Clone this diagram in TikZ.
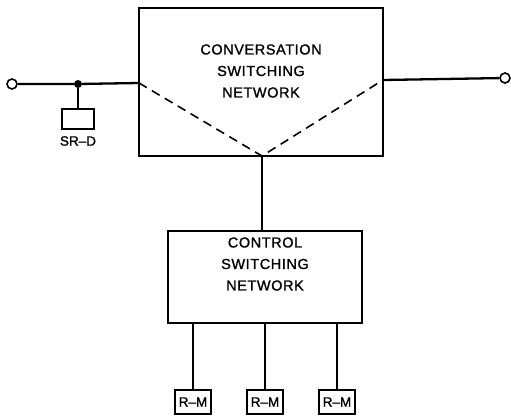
\documentclass[tikz,border=0pt]{standalone}
\usepackage{fontspec}
\setmainfont{Liberation Sans}
\newfontfamily\lblfont{Liberation Sans}[FakeBold=1.2,LetterSpace=4]
\newfontfamily\smfont{Liberation Sans}[FakeBold=1.5]
\begin{document}
\begin{tikzpicture}[x=1pt,y=-1pt,
  wire/.style={line width=2.3pt},
  boxline/.style={draw,line width=1.6pt},
  bigbox/.style={boxline,rectangle,inner sep=0pt},
  term/.style={circle,draw,line width=1.6pt,fill=white,minimum size=10pt,inner sep=0pt},
  lbl/.style={font=\lblfont\fontsize{14.5}{21.5}\selectfont,align=center,inner sep=0pt},
  small/.style={font=\smfont\fontsize{13.5}{15}\selectfont,inner sep=0pt}]
\useasboundingbox (0,0) rectangle (511,415);
% conversation switching network
\node[bigbox,minimum width=244pt,minimum height=148pt] (conv) at (261,82) {};
\node[lbl] (convt) at (261,71) {CONVERSATION\\SWITCHING\\NETWORK};
\coordinate (cl) at (139,83);
\coordinate (cr) at (383,80);
\coordinate (cb) at (262,156);
\draw[line width=1.6pt,dash pattern=on 9pt off 6pt] (cl) -- (cb) -- (cr);
% terminals
\node[term] (tl) at (12,84) {};
\node[term] (tr) at (505,78) {};
\node[circle,fill,minimum size=8pt,inner sep=0pt] (dot) at (78,84) {};
\draw[wire] (tl) -- (dot) -- (cl);
\draw[wire] (cr) -- (tr);
% SR-D
\node[bigbox,minimum width=32pt,minimum height=20pt] (srd) at (78,119) {};
\draw[wire] (dot) -- (srd);
\node[small] (srdt) at (78,141) {SR–D};
% control switching network
\node[bigbox,minimum width=194pt,minimum height=92pt] (ctrl) at (265,277) {};
\node[lbl] (ctrlt) at (265,264) {CONTROL\\SWITCHING\\NETWORK};
\draw[wire] (cb) -- (ctrl.north -| cb);
% R-M boxes
\foreach \i/\x in {1/193,2/265,3/337}{
  \node[bigbox,minimum width=36pt,minimum height=24pt,small,font=\smfont\fontsize{13.5}{15}\selectfont] (rm\i) at (\x,402) {R–M};
  \draw[wire] (ctrl.south -| rm\i) -- (rm\i);
}
\end{tikzpicture}
\end{document}
